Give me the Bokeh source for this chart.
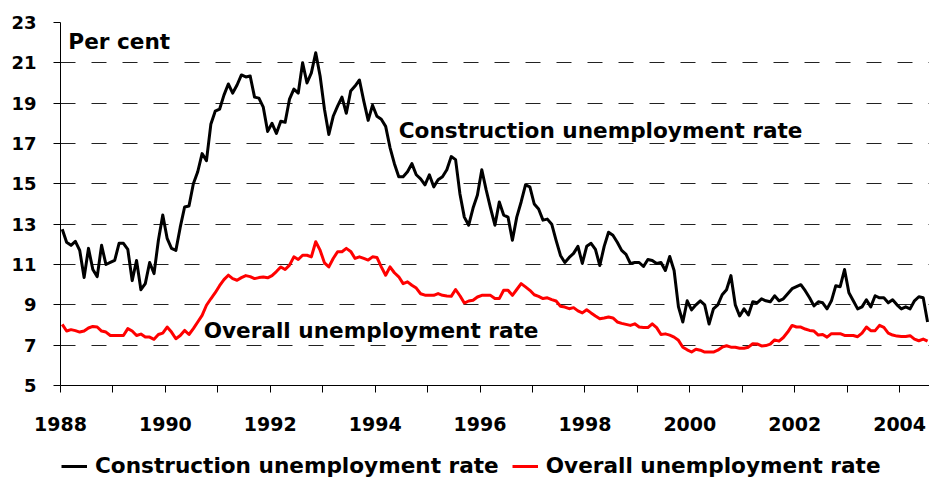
from bokeh.plotting import figure
from bokeh.layouts import column
from bokeh.models import (ColumnDataSource, FixedTicker, Legend, LegendItem,
                          Label, Range1d)
from bokeh.embed import file_html
from bokeh.resources import INLINE

# ---------------- data (monthly, Jan 1988 - Jul 2004) ----------------
start_year = 1988

construction_rate = [
    12.75, 12.1, 11.95, 12.15, 11.7, 10.35, 11.8, 10.75, 10.4, 11.95, 11.0, 11.1,   # 1988
    11.2, 12.05, 12.05, 11.75, 10.2, 11.2, 9.75, 10.05, 11.1, 10.55, 12.2, 13.45,   # 1989
    12.3, 11.8, 11.7, 12.85, 13.85, 13.9, 15.0, 15.6, 16.5, 16.15, 17.95, 18.6,     # 1990
    18.7, 19.4, 19.95, 19.5, 19.9, 20.4, 20.3, 20.35, 19.3, 19.25, 18.8, 17.6,      # 1991
    18.0, 17.5, 18.1, 18.05, 19.2, 19.7, 19.5, 21.0, 20.0, 20.5, 21.5, 20.35,       # 1992
    18.7, 17.45, 18.35, 18.85, 19.3, 18.5, 19.6, 19.85, 20.15, 19.1, 18.15, 18.9,   # 1993
    18.35, 18.2, 17.85, 16.8, 16.0, 15.35, 15.35, 15.6, 16.0, 15.45, 15.25, 14.95,  # 1994
    15.45, 14.85, 15.2, 15.35, 15.7, 16.35, 16.2, 14.5, 13.35, 12.95, 13.8, 14.45,  # 1995
    15.7, 14.7, 13.8, 12.95, 14.1, 13.45, 13.35, 12.2, 13.35, 14.1, 14.95, 14.85,   # 1996
    14.0, 13.75, 13.2, 13.25, 13.0, 12.2, 11.45, 11.1, 11.35, 11.55, 11.9, 11.05,   # 1997
    11.9, 12.05, 11.75, 10.95, 11.9, 12.6, 12.45, 12.1, 11.7, 11.5, 11.05, 11.1,    # 1998
    11.1, 10.9, 11.25, 11.2, 11.05, 11.1, 10.7, 11.4, 10.7, 8.9, 8.15, 9.2,         # 1999
    8.75, 9.0, 9.2, 9.0, 8.05, 8.8, 9.0, 9.5, 9.75, 10.45, 9.0, 8.45,               # 2000
    8.8, 8.5, 9.15, 9.1, 9.3, 9.2, 9.15, 9.45, 9.2, 9.3, 9.55, 9.8,                 # 2001
    9.9, 10.0, 9.7, 9.35, 8.95, 9.15, 9.1, 8.8, 9.2, 9.95, 9.9, 10.75,              # 2002
    9.6, 9.2, 8.8, 8.9, 9.25, 8.9, 9.45, 9.35, 9.35, 9.1, 9.25, 9.0,                # 2003
    8.8, 8.9, 8.8, 9.2, 9.4, 9.35, 8.15,                                            # 2004
]

overall_rate = [
    8.03, 7.7, 7.77, 7.72, 7.65, 7.7, 7.85, 7.93, 7.9, 7.7, 7.65, 7.48,             # 1988
    7.48, 7.48, 7.48, 7.82, 7.7, 7.48, 7.55, 7.4, 7.4, 7.29, 7.53, 7.6,             # 1989
    7.9, 7.65, 7.32, 7.48, 7.73, 7.53, 7.82, 8.15, 8.48, 8.98, 9.3, 9.6,            # 1990
    9.95, 10.25, 10.47, 10.3, 10.22, 10.35, 10.45, 10.4, 10.3, 10.35, 10.38, 10.34, # 1991
    10.45, 10.65, 10.88, 10.75, 10.97, 11.38, 11.25, 11.46, 11.46, 11.38, 12.13, 11.71,  # 1992
    11.08, 10.88, 11.3, 11.63, 11.63, 11.8, 11.65, 11.3, 11.38, 11.3, 11.22, 11.38, # 1993
    11.35, 10.88, 10.47, 10.88, 10.59, 10.39, 10.05, 10.14, 9.97, 9.83, 9.55, 9.48, # 1994
    9.47, 9.47, 9.56, 9.47, 9.44, 9.42, 9.76, 9.45, 9.09, 9.19, 9.23, 9.39,         # 1995
    9.47, 9.47, 9.47, 9.31, 9.31, 9.72, 9.72, 9.47, 9.76, 10.05, 9.89, 9.72,        # 1996
    9.5, 9.42, 9.31, 9.35, 9.26, 9.19, 8.93, 8.89, 8.81, 8.86, 8.7, 8.6,            # 1997
    8.76, 8.6, 8.45, 8.31, 8.35, 8.4, 8.35, 8.15, 8.08, 8.03, 7.98, 8.06,           # 1998
    7.9, 7.88, 7.87, 8.06, 7.87, 7.53, 7.56, 7.5, 7.4, 7.24, 6.9, 6.77,             # 1999
    6.66, 6.8, 6.75, 6.66, 6.66, 6.66, 6.75, 6.9, 6.97, 6.9, 6.9, 6.85,             # 2000
    6.85, 6.9, 7.07, 7.06, 6.96, 6.98, 7.05, 7.26, 7.2, 7.38, 7.65, 7.98,           # 2001
    7.9, 7.9, 7.8, 7.73, 7.7, 7.5, 7.53, 7.4, 7.57, 7.57, 7.57, 7.48,               # 2002
    7.48, 7.48, 7.42, 7.6, 7.9, 7.72, 7.72, 7.98, 7.88, 7.6, 7.5, 7.45,             # 2003
    7.43, 7.43, 7.47, 7.3, 7.22, 7.3, 7.2,                                          # 2004
]

year_ticks = list(range(1988, 2005))
year_labels = {y: (str(y) if y % 2 == 0 else "") for y in year_ticks}
y_ticks = [5, 7, 9, 11, 13, 15, 17, 19, 21, 23]

series_names = ["Construction unemployment rate", "Overall unemployment rate"]
series_colors = ["black", "#FF0000"]
unit_label = "Per cent"

# ---------------- figure ----------------
FONT = "DejaVu Sans"
TXT = "21.6px"
W = 929
months = list(range(len(construction_rate)))
dates = [start_year + (m + 0.4) / 12.0 for m in months]
src = ColumnDataSource(dict(x=dates, c=construction_rate, o=overall_rate))

p = figure(width=W, height=440, output_backend="svg", toolbar_location=None,
           x_range=Range1d(1988, 2004.57), y_range=Range1d(5, 23),
           min_border_left=60, min_border_right=0, min_border_top=22,
           min_border_bottom=55)
p.outline_line_color = None
p.background_fill_color = "white"
p.border_fill_color = "white"

p.xgrid.grid_line_color = None
p.ygrid.grid_line_color = "#222222"
p.ygrid.grid_line_dash = "15 16"
p.ygrid.grid_line_width = 1

p.yaxis.ticker = FixedTicker(ticks=y_ticks)
p.yaxis.major_tick_out = 7
p.yaxis.major_tick_in = 0
p.yaxis.minor_tick_out = 0
p.yaxis.minor_tick_in = 0
p.yaxis.major_label_standoff = 17
p.yaxis.axis_line_color = "black"
p.yaxis.major_tick_line_color = "black"
p.yaxis.major_label_text_font = FONT
p.yaxis.major_label_text_font_size = "18px"
p.yaxis.major_label_text_font_style = "bold"
p.yaxis.major_label_text_color = "black"

p.xaxis.ticker = FixedTicker(ticks=year_ticks)
p.xaxis.major_label_overrides = year_labels
p.xaxis.major_tick_out = 7
p.xaxis.major_tick_in = 0
p.xaxis.minor_tick_out = 0
p.xaxis.minor_tick_in = 0
p.xaxis.major_label_standoff = 24
p.xaxis.axis_line_color = "black"
p.xaxis.major_tick_line_color = "black"
p.xaxis.major_label_text_font = FONT
p.xaxis.major_label_text_font_size = "19px"
p.xaxis.major_label_text_font_style = "bold"
p.xaxis.major_label_text_color = "black"

p.line("x", "o", source=src, line_color=series_colors[1], line_width=3,
       line_join="round")
p.line("x", "c", source=src, line_color=series_colors[0], line_width=3,
       line_join="round")

common = dict(text_font=FONT, text_font_style="bold", text_font_size=TXT,
              text_color="black", text_baseline="alphabetic")
p.add_layout(Label(x=1988.15, y=22.07, text=unit_label, **common))
p.add_layout(Label(x=1994.45, y=17.62, text=series_names[0], **common))
p.add_layout(Label(x=1990.73, y=7.72, text=series_names[1], **common))

# ---------------- legend strip below the chart ----------------
# (its sample renderers use the same data, but lie outside this strip's ranges)
leg = figure(width=W, height=38, output_backend="svg", toolbar_location=None,
             x_range=Range1d(0, 1), y_range=Range1d(0, 1), min_border=0,
             x_axis_location=None, y_axis_location=None)
leg.outline_line_color = None
leg.xgrid.visible = False
leg.ygrid.visible = False
sample_con = leg.line("x", "c", source=src, line_color=series_colors[0], line_width=3)
sample_over = leg.line("x", "o", source=src, line_color=series_colors[1], line_width=3)

legend = Legend(items=[LegendItem(label=series_names[0], renderers=[sample_con]),
                       LegendItem(label=series_names[1], renderers=[sample_over])],
                orientation="horizontal", location=(1, 0),
                glyph_width=26, glyph_height=20, label_standoff=8, spacing=13,
                padding=0, margin=0, border_line_color=None,
                background_fill_alpha=0,
                label_text_font=FONT, label_text_font_style="bold",
                label_text_font_size=TXT, label_text_color="black")
leg.add_layout(legend, "center")

layout = column(p, leg, spacing=0)
open("out.html", "w").write(file_html(layout, INLINE))
